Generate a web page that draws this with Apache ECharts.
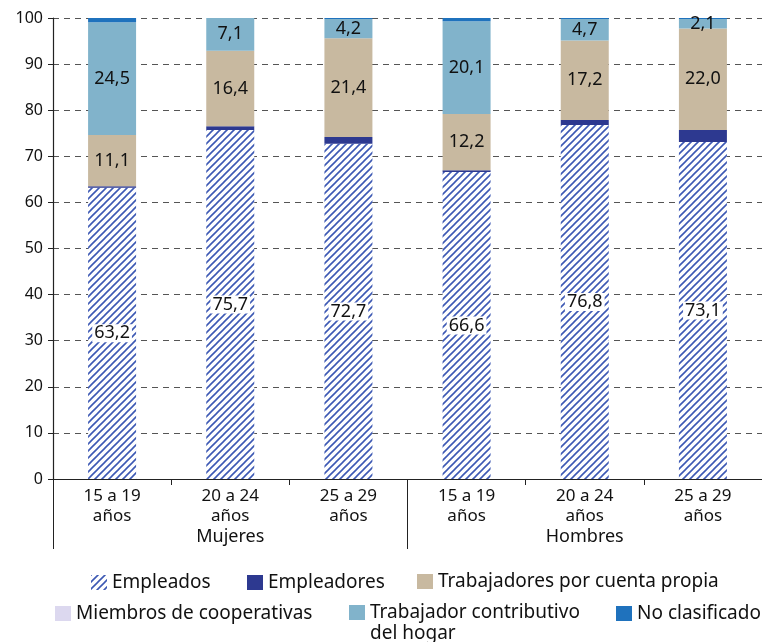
<!DOCTYPE html>
<html>
<head>
<meta charset="utf-8">
<script src="https://cdn.jsdelivr.net/npm/echarts@6/dist/echarts.min.js"></script>
<style>
  html, body { margin: 0; padding: 0; background: #fff; }
  #main { width: 762px; height: 642px; }
</style>
</head>
<body>
<div id="main"></div>
<script>
// categorias y datos
var categorias = ['15 a 19\naños', '20 a 24\naños', '25 a 29\naños', '15 a 19\naños', '20 a 24\naños', '25 a 29\naños'];
var grupos = ['Mujeres', 'Hombres'];
var empleados = [63.2, 75.7, 72.7, 66.6, 76.8, 73.1];
var empleadores = [0.3, 0.8, 1.5, 0.4, 1.1, 2.6];
var cuentaPropia = [11.1, 16.4, 21.4, 12.2, 17.2, 22.0];
var cooperativas = [0, 0, 0, 0, 0, 0];
var contributivo = [24.5, 7.1, 4.2, 20.1, 4.7, 2.1];
var noClasificado = [0.9, 0, 0.2, 0.7, 0.2, 0.2];
var yTicks = [0, 10, 20, 30, 40, 50, 60, 70, 80, 90, 100];

var FONT = 'Noto Sans';

// rayado para "Empleados"
function makeHatch() {
  var c = document.createElement('canvas');
  var s = 7;
  c.width = s; c.height = s;
  var ctx = c.getContext('2d');
  ctx.fillStyle = '#fff';
  ctx.fillRect(0, 0, s, s);
  ctx.strokeStyle = '#3d59b4';
  ctx.lineWidth = 1.6;
  ctx.beginPath();
  ctx.moveTo(-1, s + 1); ctx.lineTo(s + 1, -1);
  ctx.moveTo(-1, 1); ctx.lineTo(1, -1);
  ctx.moveTo(s - 1, s + 1); ctx.lineTo(s + 1, s - 1);
  ctx.stroke();
  return c;
}
var hatch = { image: makeHatch(), repeat: 'repeat' };

function fmt(v) {
  return v.toFixed(1).replace('.', ',');
}

var chart = echarts.init(document.getElementById('main'), null, { renderer: 'canvas' });

function serie(name, data, color, labelOpt) {
  return {
    name: name,
    type: 'bar',
    stack: 'total',
    barWidth: 48,
    data: data,
    itemStyle: { color: color },
    label: labelOpt || {
      show: true,
      position: 'inside',
      fontFamily: FONT,
      fontSize: 18,
      color: '#111',
      formatter: function (p) { return p.value >= 2 ? fmt(p.value) : ''; }
    }
  };
}

// una leyenda por elemento, para colocarlas como en el original
function leyenda(name, left, top, fmtFn) {
  return {
    left: left, top: top,
    itemWidth: 16, itemHeight: 15,
    icon: 'rect',
    selectedMode: false,
    formatter: fmtFn,
    textStyle: { fontFamily: FONT, fontSize: 19, color: '#111', lineHeight: 21 },
    data: [name]
  };
}

var option = {
  animation: false,
  backgroundColor: '#fff',
  grid: { left: 53, right: -3, top: 18, bottom: 163, containLabel: false },
  legend: [
    leyenda('Empleados', 86, 567),
    leyenda('Empleadores', 242, 567),
    leyenda('Trabajadores por cuenta propia', 412, 566),
    leyenda('Miembros de cooperativas', 50, 598),
    // linea vacia arriba para que la primera linea quede centrada con el icono
    leyenda('Trabajador contributivo\ndel hogar', 344, 576, function (n) { return ' \n' + n; }),
    leyenda('No clasificado', 611, 598)
  ],
  xAxis: [{
    type: 'category',
    data: categorias,
    axisLine: { lineStyle: { color: '#222', width: 1.2 } },
    axisTick: { show: true, length: 6, lineStyle: { color: '#222' } },
    axisLabel: { fontFamily: FONT, fontSize: 17, color: '#111', lineHeight: 20, margin: 7, interval: 0 }
  }, {
    type: 'category',
    data: grupos,
    position: 'bottom',
    axisLine: { show: false },
    axisTick: { show: true, length: 70, lineStyle: { color: '#222' } },
    axisLabel: { fontFamily: FONT, fontSize: 18, color: '#111', margin: 49 }
  }],
  yAxis: {
    type: 'value',
    min: 0, max: 100, interval: 10,
    axisLine: { show: true, lineStyle: { color: '#222', width: 1.2 } },
    axisTick: { show: true, length: 5, lineStyle: { color: '#222' } },
    axisLabel: {
      fontFamily: FONT, fontSize: 16, color: '#111', margin: 10,
      formatter: function (v) { return yTicks.indexOf(v) >= 0 ? String(v) : ''; }
    },
    splitLine: { show: true, lineStyle: { color: '#555', type: [6, 5], width: 1.2 } }
  },
  series: [
    serie('Empleados', empleados, hatch, {
      show: true,
      position: 'inside',
      fontFamily: FONT,
      fontSize: 18,
      color: '#111',
      backgroundColor: '#fff',
      padding: [0, 2, 0, 2],
      formatter: function (p) { return fmt(p.value); }
    }),
    serie('Empleadores', empleadores, '#2d3990', { show: false }),
    serie('Trabajadores por cuenta propia', cuentaPropia, '#c8b9a0'),
    serie('Miembros de cooperativas', cooperativas, '#dcd8ef', { show: false }),
    serie('Trabajador contributivo\ndel hogar', contributivo, '#81b3cb'),
    serie('No clasificado', noClasificado, '#1f72bd', { show: false })
  ]
};

chart.setOption(option);
</script>
</body>
</html>
